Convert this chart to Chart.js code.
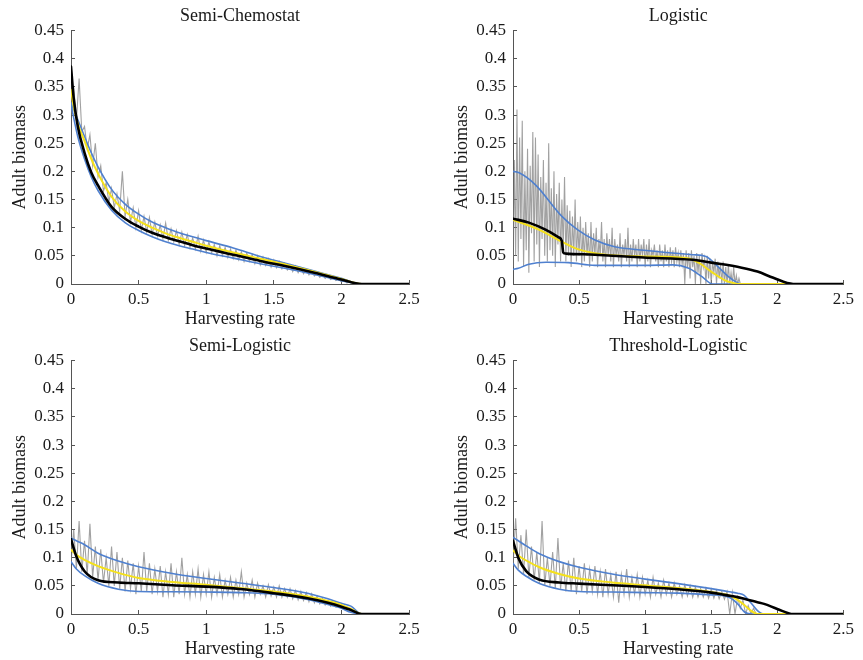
<!DOCTYPE html>
<html><head><meta charset="utf-8">
<script src="https://cdn.jsdelivr.net/npm/chart.js@4.4.1/dist/chart.umd.min.js"></script>
<style>
html,body{margin:0;padding:0;background:#fff;overflow:hidden;width:863px;height:660px;}
canvas{position:absolute;}
</style></head><body>
<canvas id="c1" width="429" height="330" style="left:0;top:0"></canvas>
<canvas id="c2" width="421" height="330" style="left:442px;top:0"></canvas>
<canvas id="c3" width="429" height="330" style="left:0;top:330px"></canvas>
<canvas id="c4" width="421" height="330" style="left:442px;top:330px"></canvas>
<script>
// ---- tick labels ----
const xTicks = [0, 0.5, 1, 1.5, 2, 2.5];
const xTickLabels = ['0', '0.5', '1', '1.5', '2', '2.5'];
const yTicks = [0, 0.05, 0.1, 0.15, 0.2, 0.25, 0.3, 0.35, 0.4, 0.45];
const yTickLabels = ['0', '0.05', '0.1', '0.15', '0.2', '0.25', '0.3', '0.35', '0.4', '0.45'];
const titles = ['Semi-Chemostat', 'Logistic', 'Semi-Logistic', 'Threshold-Logistic'];
const xTitle = 'Harvesting rate';
const yTitle = 'Adult biomass';

// ---- Semi-Chemostat ----
const chemoX = [0, 0.02, 0.05, 0.1, 0.15, 0.2, 0.3, 0.4, 0.5, 0.6, 0.7, 0.8, 0.9, 1.0, 1.2, 1.4, 1.6, 1.8, 2.0, 2.15, 2.5];
const chemoBlack = [0.386, 0.33, 0.28, 0.233, 0.198, 0.175, 0.137, 0.116, 0.102, 0.091, 0.083, 0.076, 0.069, 0.063, 0.052, 0.041, 0.031, 0.02, 0.008, 0, 0];
const chemoYellow = [0.345, 0.315, 0.285, 0.254, 0.222, 0.196, 0.155, 0.129, 0.112, 0.1, 0.09, 0.082, 0.075, 0.068, 0.056, 0.045, 0.034, 0.022, 0.009, 0, 0];
const chemoUpper = [0.322, 0.31, 0.292, 0.262, 0.233, 0.208, 0.168, 0.142, 0.124, 0.11, 0.1, 0.091, 0.084, 0.077, 0.064, 0.049, 0.036, 0.023, 0.01, 0, 0];
const chemoLower = [0.32, 0.295, 0.262, 0.222, 0.19, 0.166, 0.131, 0.109, 0.095, 0.084, 0.075, 0.068, 0.062, 0.056, 0.046, 0.036, 0.027, 0.017, 0.006, 0, 0];
// simulation trace, sampled every 0.02 from 0
const chemoGray = [0.30, 0.35, 0.29, 0.365, 0.27, 0.28, 0.24, 0.265, 0.21, 0.25, 0.19, 0.21, 0.165, 0.18, 0.145, 0.17, 0.135, 0.16, 0.13, 0.2,
  0.12, 0.15, 0.11, 0.135, 0.1, 0.13, 0.095, 0.12, 0.092, 0.118, 0.088, 0.11, 0.085, 0.105, 0.08, 0.108, 0.078, 0.098, 0.075, 0.095,
  0.07, 0.092, 0.068, 0.088, 0.065, 0.082, 0.062, 0.085, 0.058, 0.078, 0.056, 0.075, 0.055, 0.07, 0.05, 0.068, 0.05, 0.065, 0.047, 0.062,
  0.045, 0.06, 0.043, 0.057, 0.04, 0.055, 0.04, 0.052, 0.036, 0.05, 0.034, 0.048, 0.033, 0.045, 0.03, 0.043, 0.029, 0.04, 0.027, 0.037,
  0.025, 0.034, 0.022, 0.032, 0.02, 0.029, 0.018, 0.026, 0.016, 0.023, 0.014, 0.02, 0.012, 0.017, 0.01, 0.014, 0.008, 0.011, 0.006, 0.009,
  0.004, 0.006, 0.002, 0.003, 0.001, 0.001, 0, 0];

// ---- Logistic ----
const logiBlackX = [0, 0.12, 0.25, 0.345, 0.37, 0.375, 0.38, 0.4, 0.62, 0.99, 1.36, 1.5, 1.73, 1.85, 1.97, 2.12, 2.5];
const logiBlack = [0.116, 0.109, 0.096, 0.083, 0.076, 0.065, 0.056, 0.054, 0.052, 0.047, 0.043, 0.038, 0.029, 0.022, 0.011, 0, 0];
const logiYellowX = [0, 0.2, 0.345, 0.49, 0.67, 0.99, 1.31, 1.41, 1.5, 1.6, 1.68, 1.72, 2.5];
const logiYellow = [0.114, 0.096, 0.078, 0.062, 0.053, 0.049, 0.046, 0.037, 0.022, 0.007, 0.001, 0, 0];
const logiUpperX = [0, 0.05, 0.17, 0.37, 0.49, 0.62, 0.77, 0.99, 1.36, 1.46, 1.55, 1.63, 1.7, 1.73, 2.5];
const logiUpper = [0.2, 0.197, 0.176, 0.12, 0.096, 0.078, 0.066, 0.06, 0.052, 0.049, 0.031, 0.013, 0.002, 0, 0];
const logiLowerX = [0, 0.04, 0.12, 0.25, 0.42, 0.62, 0.99, 1.21, 1.33, 1.43, 1.51, 2.5];
const logiLower = [0.026, 0.028, 0.035, 0.0385, 0.038, 0.033, 0.033, 0.034, 0.028, 0.013, 0, 0];
// simulation trace, sampled every 0.01 from 0
const logiGray = [0.03, 0.22, 0.05, 0.31, 0.04, 0.26, 0.08, 0.29, 0.03, 0.2,
  0.06, 0.24, 0.02, 0.21, 0.09, 0.27, 0.04, 0.26, 0.07, 0.23,
  0.03, 0.19, 0.08, 0.22, 0.05, 0.18, 0.04, 0.25, 0.06, 0.17,
  0.05, 0.2, 0.03, 0.16, 0.07, 0.18, 0.04, 0.15, 0.06, 0.19,
  0.04, 0.14, 0.05, 0.13, 0.03, 0.12, 0.05, 0.15, 0.04, 0.11,
  0.05, 0.12, 0.03, 0.1, 0.04, 0.11, 0.05, 0.09, 0.03, 0.11,
  0.04, 0.09, 0.05, 0.1, 0.03, 0.08, 0.05, 0.11, 0.04, 0.08,
  0.03, 0.09, 0.05, 0.08, 0.04, 0.1, 0.03, 0.08, 0.05, 0.07,
  0.04, 0.09, 0.03, 0.07, 0.05, 0.08, 0.04, 0.1, 0.03, 0.07,
  0.04, 0.08, 0.05, 0.07, 0.03, 0.08, 0.04, 0.07, 0.05, 0.08,
  0.03, 0.07, 0.04, 0.08, 0.03, 0.06, 0.05, 0.07, 0.04, 0.06,
  0.03, 0.07, 0.04, 0.06, 0.03, 0.07, 0.04, 0.06, 0.03, 0.065,
  0.04, 0.06, 0.03, 0.065, 0.04, 0.055, 0.03, 0.06, 0.035, 0.055,
  0.0, 0.06, 0.03, 0.055, 0.01, 0.06, 0.03, 0.05, 0.0, 0.055,
  0.02, 0.05, 0.0, 0.055, 0.03, 0.045, 0.0, 0.05, 0.01, 0.045,
  0.0, 0.04, 0.02, 0.045, 0.0, 0.04, 0.01, 0.035, 0.0, 0.04,
  0.0, 0.03, 0.0, 0.035, 0.0, 0.02, 0.0, 0.03, 0.0, 0.015,
  0.0, 0.01, 0.0];

// ---- Semi-Logistic ----
const semiX = [0, 0.04, 0.1, 0.2, 0.35, 0.5, 0.75, 1.0, 1.25, 1.5, 1.75, 1.9, 2.0, 2.07, 2.15, 2.5];
const semiBlack = [0.133, 0.102, 0.076, 0.06, 0.056, 0.0545, 0.051, 0.0486, 0.0445, 0.037, 0.028, 0.02, 0.013, 0.007, 0, 0];
const semiYellow = [0.114, 0.105, 0.096, 0.085, 0.073, 0.064, 0.057, 0.052, 0.046, 0.04, 0.031, 0.023, 0.016, 0.009, 0, 0];
const semiUpper = [0.135, 0.13, 0.123, 0.108, 0.094, 0.084, 0.072, 0.063, 0.055, 0.047, 0.037, 0.027, 0.019, 0.014, 0, 0];
const semiLower = [0.093, 0.08, 0.068, 0.0545, 0.044, 0.04, 0.0395, 0.039, 0.038, 0.035, 0.026, 0.017, 0.01, 0.003, 0, 0];
// simulation trace, sampled every 0.02 from 0
const semiGray = [0.09, 0.15, 0.08, 0.165, 0.075, 0.13, 0.07, 0.16, 0.065, 0.12, 0.06, 0.115, 0.055, 0.1, 0.05, 0.12, 0.05, 0.11, 0.045, 0.1,
  0.04, 0.095, 0.045, 0.09, 0.035, 0.085, 0.04, 0.11, 0.04, 0.09, 0.035, 0.08, 0.04, 0.085, 0.03, 0.075, 0.035, 0.09, 0.03, 0.075,
  0.035, 0.1, 0.035, 0.07, 0.03, 0.075, 0.035, 0.08, 0.03, 0.07, 0.035, 0.075, 0.03, 0.065, 0.035, 0.07, 0.03, 0.06, 0.035, 0.065,
  0.03, 0.06, 0.035, 0.075, 0.03, 0.055, 0.035, 0.06, 0.03, 0.055, 0.035, 0.05, 0.03, 0.052, 0.032, 0.048, 0.03, 0.05, 0.03, 0.045,
  0.03, 0.045, 0.027, 0.042, 0.025, 0.04, 0.024, 0.038, 0.022, 0.036, 0.02, 0.032, 0.018, 0.028, 0.016, 0.024, 0.014, 0.02, 0.012, 0.016,
  0.01, 0.012, 0.007, 0.008, 0.004, 0.003, 0.001, 0];

// ---- Threshold-Logistic ----
const threshX = [0, 0.04, 0.1, 0.2, 0.35, 0.5, 0.75, 1.0, 1.25, 1.5, 1.6, 1.65, 1.7, 1.75, 1.8, 1.85, 1.9, 2.0, 2.12, 2.5];
const threshBlack = [0.13, 0.1, 0.076, 0.061, 0.056, 0.054, 0.051, 0.048, 0.044, 0.038, 0.034, 0.032, 0.03, 0.027, 0.024, 0.021, 0.018, 0.009, 0, 0];
const threshYellow = [0.113, 0.104, 0.095, 0.083, 0.071, 0.063, 0.056, 0.051, 0.046, 0.039, 0.035, 0.032, 0.025, 0.016, 0.006, 0, 0, 0, 0, 0];
const threshUpper = [0.136, 0.13, 0.121, 0.107, 0.093, 0.083, 0.071, 0.062, 0.054, 0.045, 0.041, 0.039, 0.037, 0.033, 0.02, 0.006, 0, 0, 0, 0];
const threshLower = [0.09, 0.078, 0.067, 0.054, 0.044, 0.04, 0.039, 0.038, 0.037, 0.034, 0.032, 0.028, 0.018, 0.004, 0, 0, 0, 0, 0, 0];
// simulation trace, sampled every 0.02 from 0
const threshGray = [0.085, 0.17, 0.08, 0.14, 0.07, 0.15, 0.065, 0.12, 0.06, 0.11, 0.055, 0.165, 0.05, 0.1, 0.05, 0.11, 0.045, 0.135, 0.045, 0.09,
  0.04, 0.095, 0.04, 0.1, 0.035, 0.085, 0.04, 0.09, 0.035, 0.08, 0.04, 0.085, 0.035, 0.075, 0.03, 0.08, 0.035, 0.07, 0.03, 0.075,
  0.02, 0.07, 0.035, 0.08, 0.03, 0.065, 0.035, 0.07, 0.03, 0.065, 0.035, 0.06, 0.03, 0.065, 0.035, 0.055, 0.03, 0.06, 0.035, 0.055,
  0.03, 0.055, 0.035, 0.05, 0.03, 0.052, 0.032, 0.05, 0.03, 0.048, 0.03, 0.045, 0.03, 0.046, 0.028, 0.044, 0.028, 0.042, 0.027, 0.04,
  0.026, 0.04, 0.0, 0.038, 0.0, 0.03, 0.01, 0.025, 0.0, 0.015, 0.0, 0.01, 0.0, 0.0];

// ---- rendering ----
const FONT = "'Liberation Serif', 'DejaVu Serif', serif";
const TXT = '#1a1a1a';
const AXIS = '#555555';
const C_GRAY = 'rgba(125,125,125,0.72)';
const C_BLUE = '#4f80cf';
const C_YELLOW = '#f5e11a';
const C_BLACK = '#000000';

function pts(xs, ys) { return ys.map((y, i) => ({x: xs[i], y: y})); }
function stepPts(step, ys) { return ys.map((y, i) => ({x: +(i * step).toFixed(3), y: y})); }

function smooth(data, color, width) {
  return {data, borderColor: color, borderWidth: width, pointRadius: 0, fill: false,
    cubicInterpolationMode: 'monotone', borderJoinStyle: 'round', borderCapStyle: 'round'};
}
function raw(data) {
  return {data, borderColor: C_GRAY, borderWidth: 1.1, pointRadius: 0, fill: false, tension: 0};
}

function makeChart(id, title, sets, padRight) {
  const sc = () => ({
    border: {display: true, color: AXIS, width: 1},
    grid: {display: true, drawOnChartArea: false, drawTicks: true, tickLength: -4, color: AXIS, lineWidth: 1},
  });
  new Chart(document.getElementById(id), {
    type: 'line',
    data: {datasets: [
      smooth(sets.black, C_BLACK, 2.6),
      smooth(sets.yellow, C_YELLOW, 2),
      smooth(sets.upper, C_BLUE, 1.6),
      smooth(sets.lower, C_BLUE, 1.6),
      raw(sets.gray)
    ]},
    options: {
      responsive: false, animation: false, devicePixelRatio: 1,
      layout: {padding: {left: 0, right: padRight, top: 0, bottom: 0}},
      plugins: {
        legend: {display: false}, tooltip: {enabled: false},
        title: {display: true, text: title, fullSize: false, color: TXT,
          font: {family: FONT, size: 18, weight: 'normal'}, padding: {top: 5, bottom: 4}}
      },
      scales: {
        x: Object.assign(sc(), {
          type: 'linear', min: 0, max: 2.5,
          afterBuildTicks: s => { s.ticks = xTicks.map(v => ({value: v})); },
          afterFit: s => { s.height = 46; },
          ticks: {padding: 9, color: TXT, maxRotation: 0, autoSkip: false,
            font: {family: FONT, size: 17}, callback: (v, i) => xTickLabels[i]},
          title: {display: true, text: xTitle, color: TXT, font: {family: FONT, size: 18}, padding: {top: 0, bottom: 0}}
        }),
        y: Object.assign(sc(), {
          type: 'linear', min: 0, max: 0.45,
          afterBuildTicks: s => { s.ticks = yTicks.map(v => ({value: v})); },
          afterFit: s => { s.width = 71; },
          ticks: {padding: 11, color: TXT, font: {family: FONT, size: 17}, callback: (v, i) => yTickLabels[i]},
          title: {display: true, text: yTitle, color: TXT, font: {family: FONT, size: 18}, padding: {top: 9, bottom: 0}}
        })
      }
    }
  });
}

makeChart('c1', titles[0], {
  black: pts(chemoX, chemoBlack), yellow: pts(chemoX, chemoYellow),
  upper: pts(chemoX, chemoUpper), lower: pts(chemoX, chemoLower), gray: stepPts(0.02, chemoGray)
}, 20);
makeChart('c2', titles[1], {
  black: pts(logiBlackX, logiBlack), yellow: pts(logiYellowX, logiYellow),
  upper: pts(logiUpperX, logiUpper), lower: pts(logiLowerX, logiLower), gray: stepPts(0.01, logiGray)
}, 12);
makeChart('c3', titles[2], {
  black: pts(semiX, semiBlack), yellow: pts(semiX, semiYellow),
  upper: pts(semiX, semiUpper), lower: pts(semiX, semiLower), gray: stepPts(0.02, semiGray)
}, 20);
makeChart('c4', titles[3], {
  black: pts(threshX, threshBlack), yellow: pts(threshX, threshYellow),
  upper: pts(threshX, threshUpper), lower: pts(threshX, threshLower), gray: stepPts(0.02, threshGray)
}, 12);
</script>
</body></html>
